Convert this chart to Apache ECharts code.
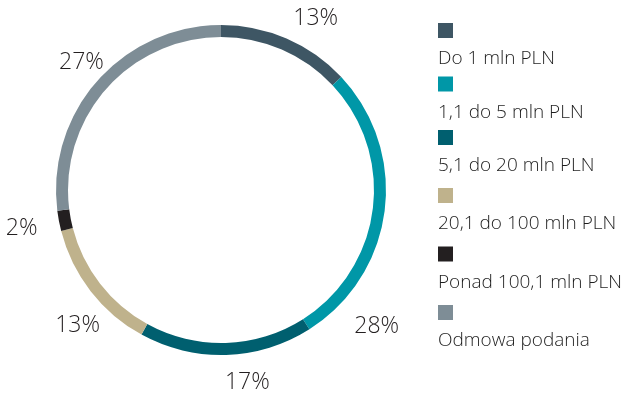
<!DOCTYPE html>
<html>
<head>
<meta charset="utf-8">
<script src="https://cdn.jsdelivr.net/npm/echarts@6/dist/echarts.min.js"></script>
<style>
  html, body { margin: 0; padding: 0; background: #fff; }
  #chart { width: 626px; height: 398px; }
</style>
</head>
<body>
<div id="chart"></div>
<script>
// Share of companies by revenue bracket
const categories = [
  'Do 1 mln PLN',
  '1,1 do 5 mln PLN',
  '5,1 do 20 mln PLN',
  '20,1 do 100 mln PLN',
  'Ponad 100,1 mln PLN',
  'Odmowa podania'
];
const shares = [13, 28, 17, 13, 2, 27];
const colors = ['#3e5664', '#0097a7', '#005f6f', '#bfb28c', '#231f20', '#7e8d96'];

// label placement around the ring: angular nudge (deg) and distance from centre
const labelNudge = [5.5, 34, -6, -5.5, 0, 1];
const labelRadius = [196, 207, 194, 197, 203, 189];

// vertical position of each legend entry
const legendTops = [23, 76.5, 130, 188, 246.5, 305];

const center = [221, 190];
const total = shares.reduce((a, b) => a + b, 0);
const midAngles = [];
let acc = 0;
shares.forEach(v => { midAngles.push((acc + v / 2) / total * 360); acc += v; });

const rich = {
  t: { fontSize: 19, fontFamily: 'Open Sans', fontWeight: 300, color: '#1e1e1e', lineHeight: 42 }
};
colors.forEach((c, i) => {
  rich['s' + i] = { width: 15, height: 15, lineHeight: 15, backgroundColor: c };
});

const legends = categories.map((name, i) => ({
  orient: 'vertical',
  left: 433,
  top: legendTops[i],
  itemWidth: 0,
  itemHeight: 0,
  padding: 0,
  data: [name],
  formatter: n => '{s' + categories.indexOf(n) + '|}\n{t|' + n + '}',
  textStyle: { rich: rich, padding: 0 }
}));

const chart = echarts.init(document.getElementById('chart'));
chart.setOption({
  animation: false,
  color: colors,
  legend: legends,
  series: [{
    type: 'pie',
    center: center,
    radius: [153, 165],
    startAngle: 90,
    clockwise: true,
    avoidLabelOverlap: false,
    silent: true,
    itemStyle: { borderWidth: 0 },
    label: {
      show: true,
      position: 'outside',
      formatter: '{c}%',
      fontSize: 23,
      fontFamily: 'Open Sans',
      fontWeight: 300,
      color: '#231f20'
    },
    labelLine: { show: false },
    labelLayout: params => {
      const i = params.dataIndex;
      const a = (midAngles[i] + labelNudge[i]) * Math.PI / 180;
      return {
        x: center[0] + labelRadius[i] * Math.sin(a),
        y: center[1] - labelRadius[i] * Math.cos(a),
        align: 'center',
        verticalAlign: 'middle'
      };
    },
    data: categories.map((n, i) => ({ name: n, value: shares[i] }))
  }]
});
</script>
</body>
</html>
